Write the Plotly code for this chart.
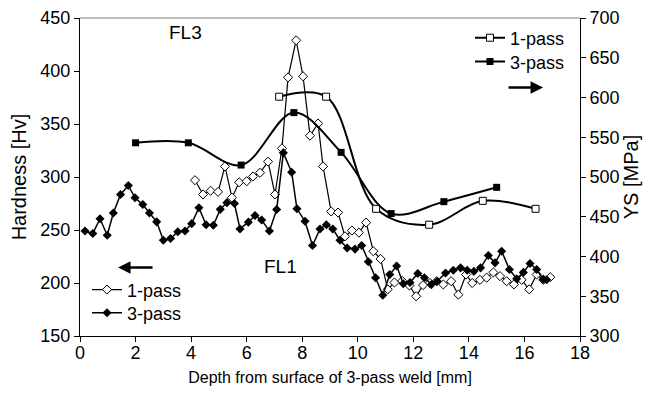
import plotly.graph_objects as go

# ---- data ----
hv1_x = [4.14, 4.43, 4.70, 4.97, 5.22, 5.47, 5.73, 6.00, 6.23, 6.48, 6.77, 7.02,
         7.27, 7.49, 7.78, 8.03, 8.28, 8.57, 8.75, 9.04, 9.29, 9.54, 9.79, 10.04,
         10.30, 10.56, 10.82, 11.08, 11.32, 11.60, 11.86, 12.10, 12.35, 12.60,
         12.84, 13.08, 13.36, 13.62, 13.90, 14.12, 14.40, 14.64, 14.88, 15.12,
         15.36, 15.62, 15.90, 16.17, 16.44, 16.68, 16.93]
hv1_y = [297, 283.5, 287, 286, 310, 280.5, 295, 296, 300.5, 304, 314.5, 283.5,
         327, 394, 429, 395, 339, 350.5, 310, 267.5, 266.5, 244, 249.5, 247.5,
         257, 230, 222.7, 194, 200.5, 202, 197.6, 187.5, 198, 200,
         201.7, 198.6, 201.7, 189, 208, 200, 203, 205, 210, 206.5,
         201.7, 198.6, 203, 194, 208, 203, 205.5]

hv3_x = [0.18, 0.46, 0.72, 0.98, 1.20, 1.46, 1.74, 1.98, 2.26, 2.50, 2.76, 3.00,
         3.26, 3.52, 3.78, 4.02, 4.28, 4.54, 4.80, 5.05, 5.29, 5.56, 5.76, 6.06,
         6.30, 6.54, 6.82, 7.08, 7.32, 7.62, 7.81, 8.10, 8.37, 8.64, 8.87, 9.10,
         9.36, 9.62, 9.90, 10.14, 10.38, 10.64, 10.90, 11.15, 11.40, 11.64, 11.88,
         12.16, 12.40, 12.65, 12.86, 13.16, 13.44, 13.70, 13.94, 14.18, 14.42,
         14.70, 14.94, 15.18, 15.46, 15.72, 15.96, 16.20, 16.44, 16.68, 16.80]
hv3_y = [249, 246.7, 260.6, 245, 266, 283.5, 292, 280.4, 274, 266, 257.7, 240.4,
         242, 248.3, 249, 256, 271, 255, 254.5, 269.5, 275.8, 275, 251, 257.4,
         263.7, 259.4, 249, 269.3, 322.8, 304.5, 270, 258.3, 235.4, 251, 255, 251,
         240.4, 233, 232, 235.4, 220, 205, 188.5, 208, 216, 199.3, 200.5,
         209, 205, 198.5, 201.7, 209.5, 212, 214.3, 212, 211, 214.3,
         226, 219, 230, 212.7, 204, 210, 218.4, 212.7, 203.5, 203]

ys1_x = [7.17, 8.86, 10.66, 12.57, 14.50, 16.40]
ys1_y = [601, 601, 460, 440, 470, 460]

ys3_x = [2.0, 3.9, 5.8, 7.7, 9.4, 11.2, 13.1, 15.0]
ys3_y = [543, 543, 515, 581, 531, 454, 469, 487]

FONT = "Liberation Sans, Arial, sans-serif"

fig = go.Figure()

fig.add_trace(go.Scatter(
    x=hv1_x, y=hv1_y, name="1-pass", mode="lines+markers",
    line=dict(color="black", width=1.2),
    marker=dict(symbol="diamond", size=7, color="white", line=dict(color="black", width=1)),
    legend="legend3"))
fig.add_trace(go.Scatter(
    x=hv3_x, y=hv3_y, name="3-pass", mode="lines+markers",
    line=dict(color="black", width=1.5),
    marker=dict(symbol="diamond", size=7, color="black"),
    legend="legend4"))
fig.add_trace(go.Scatter(
    x=ys1_x, y=ys1_y, name="1-pass", mode="lines+markers", yaxis="y2",
    line=dict(color="black", width=2, shape="spline", smoothing=1),
    marker=dict(symbol="square", size=7, color="white", line=dict(color="black", width=1)),
    legend="legend"))
fig.add_trace(go.Scatter(
    x=ys3_x, y=ys3_y, name="3-pass", mode="lines+markers", yaxis="y2",
    line=dict(color="black", width=2, shape="spline", smoothing=1),
    marker=dict(symbol="square", size=7, color="black"),
    legend="legend2"))

axis_common = dict(showline=True, linecolor="black", linewidth=1, ticks="outside",
                   ticklen=5, tickcolor="black", showgrid=False, zeroline=False,
                   automargin=False,
                   tickfont=dict(family=FONT, size=18, color="black"))


def leg(x, y):
    return dict(x=x, y=y, xanchor="left", yanchor="middle", bgcolor="rgba(0,0,0,0)",
                font=dict(family=FONT, size=18), itemwidth=30, tracegroupgap=0)


fig.update_layout(
    width=635, height=381,
    margin=dict(l=72, r=63, t=10, b=53, autoexpand=False),
    paper_bgcolor="white", plot_bgcolor="white",
    font=dict(family=FONT, size=18, color="black"),
    xaxis=dict(range=[0, 18], dtick=2, ticklabelstandoff=-5, **axis_common,
               title=dict(text="Depth from surface of 3-pass weld [mm]",
                          font=dict(family=FONT, size=16), standoff=10)),
    yaxis=dict(range=[150, 450], dtick=50, **axis_common,
               title=dict(text="Hardness [Hv]", font=dict(family=FONT, size=20), standoff=10)),
    yaxis2=dict(range=[300, 700], dtick=50, overlaying="y", side="right", **axis_common,
                title=dict(text="YS [MPa]", font=dict(family=FONT, size=20), standoff=4)),
    legend=leg(0.78, 0.937),
    legend2=leg(0.78, 0.862),
    legend3=leg(0.014, 0.145),
    legend4=leg(0.014, 0.072),
    showlegend=True,
)

# top border (grey)
fig.add_shape(type="line", xref="paper", yref="paper", x0=0, x1=1, y0=1, y1=1,
              line=dict(color="#808080", width=1))

fig.add_annotation(text="FL3", x=3.78, y=436, xref="x", yref="y", showarrow=False,
                   font=dict(family=FONT, size=19))
fig.add_annotation(text="FL1", x=7.2, y=215.6, xref="x", yref="y", showarrow=False,
                   font=dict(family=FONT, size=19))
# arrows
fig.add_annotation(x=16.67, y=384.4, xref="x", yref="y", ax=-36, ay=0, text="",
                   showarrow=True, arrowhead=2, arrowsize=1, arrowwidth=2.5, arrowcolor="black")
fig.add_annotation(x=1.37, y=214.6, xref="x", yref="y", ax=36, ay=0, text="",
                   showarrow=True, arrowhead=2, arrowsize=1, arrowwidth=2.5, arrowcolor="black")

fig.write_html("out.html")
